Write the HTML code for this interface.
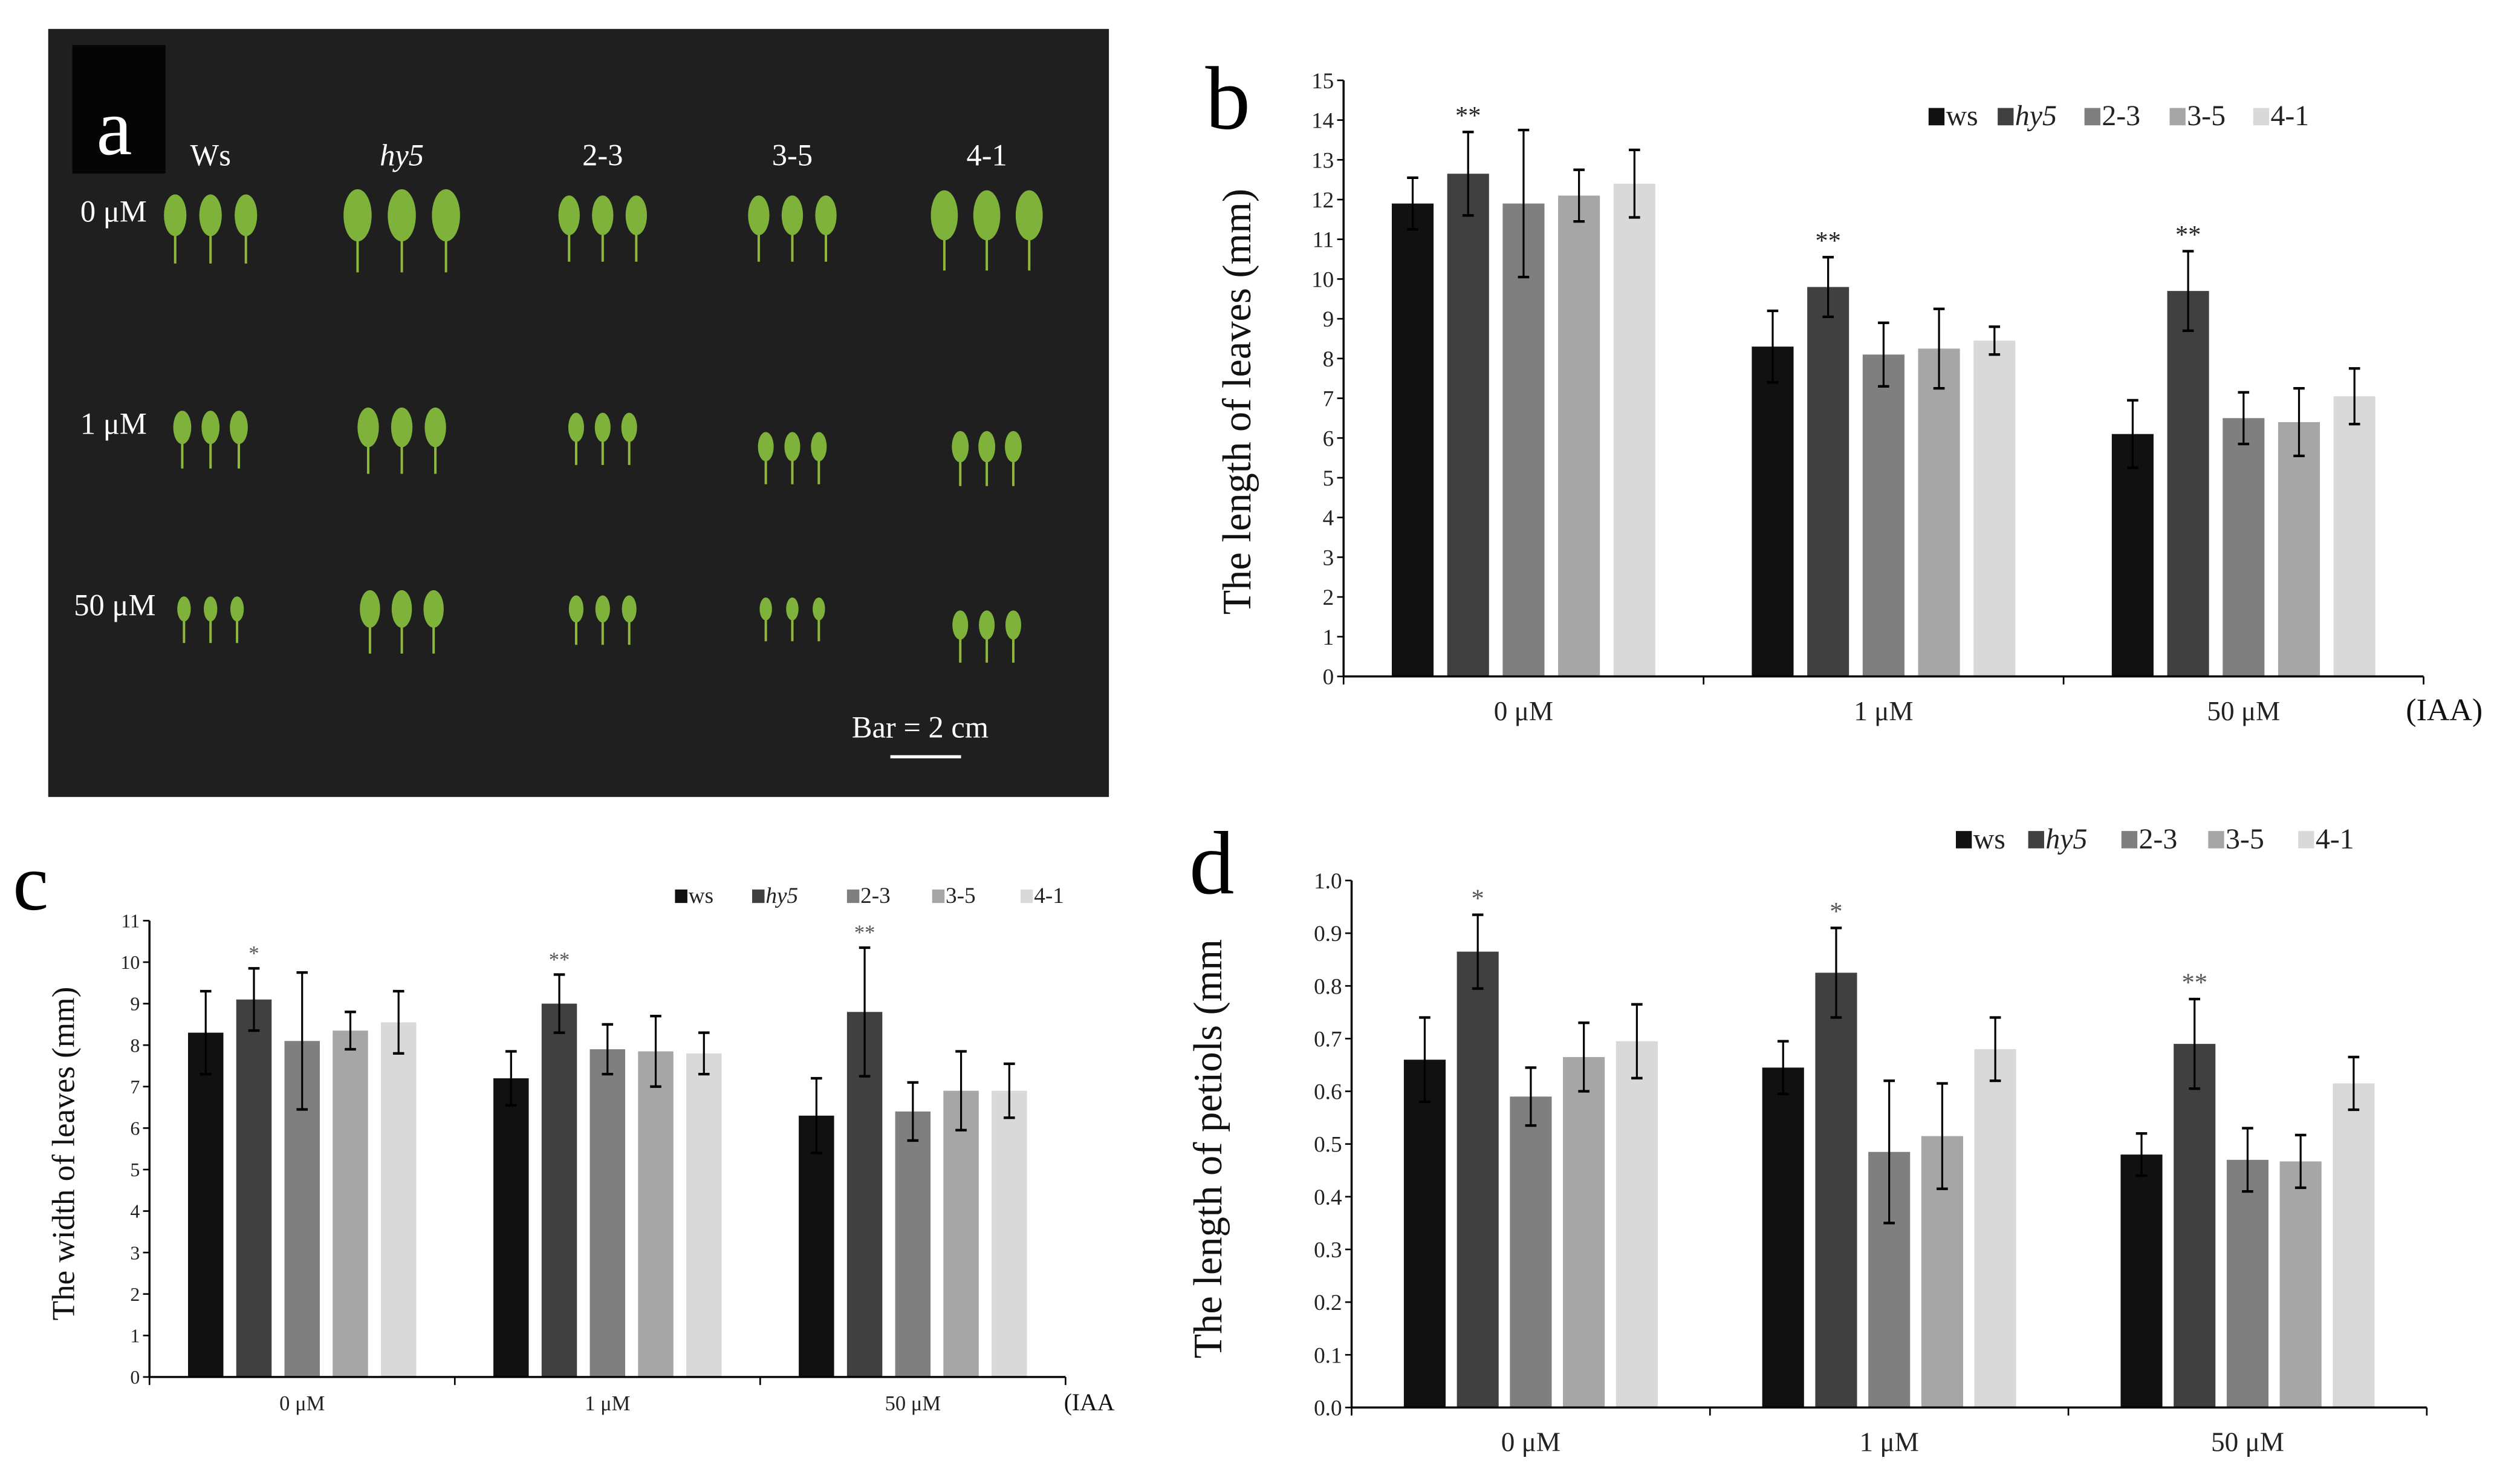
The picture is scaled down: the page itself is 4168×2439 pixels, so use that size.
<!DOCTYPE html>
<html><head><meta charset="utf-8"><style>
html,body{margin:0;padding:0;background:#fff;}
svg{display:block;font-family:"Liberation Serif",serif;}
</style></head><body>
<svg id="fig" width="4168" height="2439" viewBox="0 0 1568 918" preserveAspectRatio="none" xmlns="http://www.w3.org/2000/svg" font-family="Liberation Serif, serif">
<rect x="0" y="0" width="1568" height="918" fill="#fff"/>
<g id="panelA">
<rect x="30" y="18" width="660" height="478" fill="#1f1f1f"/>
<rect x="45" y="28" width="58" height="80" fill="#050505"/>
<text x="60" y="96" font-size="50" fill="#fff">a</text>
</g>
<g id="charts"></g>
</svg>
<script>
const photoCols=["Ws","hy5","2-3","3-5","4-1"];
const photoRows=["0 μM","1 μM","50 μM"];
const NS="http://www.w3.org/2000/svg";
function mk(tag,attrs,parent,txt){const e=document.createElementNS(NS,tag);for(const k in attrs)e.setAttribute(k,attrs[k]);if(txt!==undefined)e.textContent=txt;parent.appendChild(e);return e;}
const pa=document.getElementById('panelA');
const colX=[131,250,375,493,614];
const rowY=[140,272,385];
const leafScale=[[1,1.25,0.95,0.95,1.2],[0.8,0.95,0.7,0.7,0.75],[0.6,0.9,0.65,0.55,0.7]];
photoCols.forEach((c,i)=>{
  const t=mk('text',{x:colX[i],y:103,'font-size':19,fill:'#fff','text-anchor':'middle','font-style':i==1?'italic':'normal'},pa,c);
  
  
});
photoRows.forEach((r,j)=>{
  const t=mk('text',{x:j==2?46:50,y:rowY[j]-2,'font-size':19,fill:'#fff'},pa,r);
  
  
  colX.forEach((cx,i)=>{
    const s=leafScale[j][i];
    for(let k=-1;k<=1;k++){
      const x=cx+k*22*Math.max(s,0.75);
      const y=rowY[j]-6+(j==1&&i>=3?12:0)+(j==2&&i>=4?10:0);
      mk('line',{x1:x,y1:y,x2:x,y2:y+22*s+8,stroke:'#8fb83a','stroke-width':1.5},pa);
      const l=mk('ellipse',{cx:x,cy:y,rx:7*s,ry:13*s,fill:'#7fb23a'},pa);
      
      
    }
  });
});
mk('text',{x:530,y:459,'font-size':19,fill:'#fff'},pa,'Bar = 2 cm');
mk('line',{x1:554,y1:471,x2:598,y2:471,stroke:'#fff','stroke-width':2},pa);

// ===== DATA =====
const categories=["0 μM","1 μM","50 μM"];
const seriesNames=["ws","hy5","2-3","3-5","4-1"];
const seriesColors=["#111111","#404040","#7f7f7f","#a6a6a6","#d9d9d9"];
// Panel b: length of leaves
const bWs=[11.9,8.3,6.1], bHy5=[12.65,9.8,9.7], b23=[11.9,8.1,6.5], b35=[12.1,8.25,6.4], b41=[12.4,8.45,7.05];
const bWsErr=[0.65,0.9,0.85], bHy5Err=[1.05,0.75,1.0], b23Err=[1.85,0.8,0.65], b35Err=[0.65,1.0,0.85], b41Err=[0.85,0.35,0.7];
const bStars=["**","**","**"];
const bTicks=[0,1,2,3,4,5,6,7,8,9,10,11,12,13,14,15];
// Panel c: width of leaves
const cWs=[8.3,7.2,6.3], cHy5=[9.1,9.0,8.8], c23=[8.1,7.9,6.4], c35=[8.35,7.85,6.9], c41=[8.55,7.8,6.9];
const cWsErr=[1.0,0.65,0.9], cHy5Err=[0.75,0.7,1.55], c23Err=[1.65,0.6,0.7], c35Err=[0.45,0.85,0.95], c41Err=[0.75,0.5,0.65];
const cStars=["*","**","**"];
const cTicks=[0,1,2,3,4,5,6,7,8,9,10,11];
// Panel d: length of petiols
const dWs=[0.66,0.645,0.48], dHy5=[0.865,0.825,0.69], d23=[0.59,0.485,0.47], d35=[0.665,0.515,0.467], d41=[0.695,0.68,0.615];
const dWsErr=[0.08,0.05,0.04], dHy5Err=[0.07,0.085,0.085], d23Err=[0.055,0.135,0.06], d35Err=[0.065,0.1,0.05], d41Err=[0.07,0.06,0.05];
const dStars=["*","*","**"];
const dTicks=[0,0.1,0.2,0.3,0.4,0.5,0.6,0.7,0.8,0.9,1.0];

const root=document.getElementById('charts');
function drawChart(o){
  const g=mk('g',{},root);
  
  
  const yS=v=>o.y0-(v-o.min)/(o.max-o.min)*(o.y0-o.y1);
  const catW=(o.x1-o.x0)/categories.length;
  const xS=(ci,si)=>o.x0+catW*(ci+0.5)+(si-2)*o.step;
  mk('line',{x1:o.x0,y1:o.y1,x2:o.x0,y2:o.y0,stroke:'#000','stroke-width':1.3},g);
  o.ticks.forEach(t=>{
    const y=yS(t);
    mk('line',{x1:o.x0-4,y1:y,x2:o.x0,y2:y,stroke:'#000','stroke-width':1},g);
    const tl=mk('text',{x:o.x0-6,y:y+o.tf*0.35,'font-size':o.tf,'text-anchor':'end',fill:'#222'},g,o.fmt(t));
    
    
  });
  o.vals.forEach((arr,si)=>{
    arr.forEach((v,ci)=>{
      const cx=xS(ci,si);
      const b=mk('rect',{x:cx-o.bw/2,y:yS(v),width:o.bw,height:o.y0-yS(v),fill:seriesColors[si]},g);
      
      
      const e=o.errs[si][ci];
      const ya=yS(v+e), yb=yS(v-e);
      mk('line',{x1:cx,y1:ya,x2:cx,y2:yb,stroke:'#000','stroke-width':1.2},g);
      mk('line',{x1:cx-3.5,y1:ya,x2:cx+3.5,y2:ya,stroke:'#000','stroke-width':1.6},g);
      mk('line',{x1:cx-3.5,y1:yb,x2:cx+3.5,y2:yb,stroke:'#000','stroke-width':1.6},g);
      if(si==1){
        const st=mk('text',{x:cx,y:ya-5,'font-size':o.sf,'text-anchor':'middle',fill:o.starCol},g,o.stars[ci]);
        
        
      }
    });
  });
  mk('line',{x1:o.x0,y1:o.y0,x2:o.x1,y2:o.y0,stroke:'#000','stroke-width':1.3},g);
  for(let i=0;i<=categories.length;i++){
    const x=o.x0+catW*i;
    mk('line',{x1:x,y1:o.y0,x2:x,y2:o.y0+5,stroke:'#000','stroke-width':1},g);
  }
  categories.forEach((c,ci)=>{
    const t=mk('text',{x:o.x0+catW*(ci+0.5),y:o.y0+o.cf*1.6,'font-size':o.cf,'text-anchor':'middle',fill:'#222'},g,c);
    
    
  });
  const ia=mk('text',{x:o.iaaX,y:o.y0+o.cf*1.6,'font-size':o.cf*1.15,fill:'#111'},g,o.iaa);
  
  
  const yt=mk('text',{x:o.titleX,y:o.titleY,'font-size':o.titf,'text-anchor':'middle',fill:'#111',transform:`rotate(-90 ${o.titleX} ${o.titleY})`},g,o.title);
  
  
  seriesNames.forEach((n,si)=>{
    const lx=o.legX[si];
    mk('rect',{x:lx,y:o.legY-o.lf*0.6,width:o.lf*0.55,height:o.lf*0.6,fill:seriesColors[si]},g);
    const t=mk('text',{x:lx+o.lf*0.6,y:o.legY,'font-size':o.lf,fill:'#222','font-style':si==1?'italic':'normal'},g,n);
    
    
  });
  const pl=mk('text',{x:o.plX,y:o.plY,'font-size':o.plF,fill:'#000'},g,o.panel);
  
  
}
drawChart({name:'chart-b-leaf-length',x0:836,x1:1508,y0:421,y1:50,min:0,max:15,ticks:bTicks,fmt:t=>String(t),
  vals:[bWs,bHy5,b23,b35,b41],errs:[bWsErr,bHy5Err,b23Err,b35Err,b41Err],stars:bStars,starCol:'#222',
  step:34.5,bw:26,tf:14,cf:17,sf:16,iaa:'(IAA)',iaaX:1497,title:'The length of leaves (mm)',titleX:778,titleY:250,titf:25,
  legX:[1200,1243,1297,1350,1402],legY:78,lf:18,panel:'b',plX:750,plY:80,plF:56});
drawChart({name:'chart-c-leaf-width',x0:93,x1:663,y0:857,y1:573,min:0,max:11,ticks:cTicks,fmt:t=>String(t),
  vals:[cWs,cHy5,c23,c35,c41],errs:[cWsErr,cHy5Err,c23Err,c35Err,c41Err],stars:cStars,starCol:'#555',
  step:30,bw:22,tf:12,cf:13,sf:13,iaa:'(IAA',iaaX:662,title:'The width of leaves (mm)',titleX:46,titleY:718,titf:20,
  legX:[420,468,527,580,635],legY:562,lf:14,panel:'c',plX:8,plY:566,plF:50});
drawChart({name:'chart-d-petiole-length',x0:841,x1:1510,y0:876,y1:548,min:0,max:1.0,ticks:dTicks,fmt:t=>t.toFixed(1),
  vals:[dWs,dHy5,d23,d35,d41],errs:[dWsErr,dHy5Err,d23Err,d35Err,d41Err],stars:dStars,starCol:'#555',
  step:33,bw:26,tf:14,cf:17,sf:16,iaa:'',iaaX:1500,title:'The length of petiols (mm',titleX:760,titleY:715,titf:25,
  legX:[1217,1262,1320,1374,1430],legY:528,lf:18,panel:'d',plX:740,plY:556,plF:56});
</script>
</body></html>
